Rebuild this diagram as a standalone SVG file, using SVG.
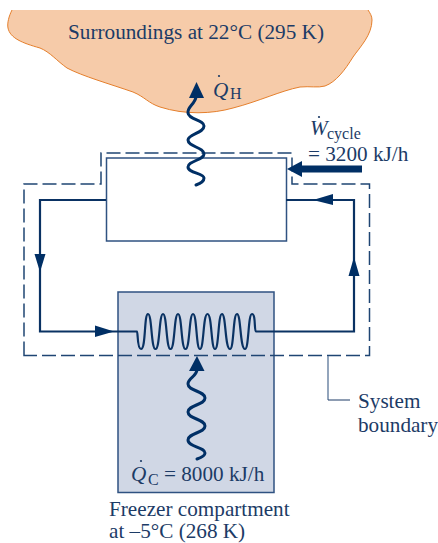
<svg xmlns="http://www.w3.org/2000/svg" width="438" height="543" viewBox="0 0 438 543">
<style>
text{font-family:"Liberation Serif","Times New Roman",serif;font-size:21.200px;fill:#1c3b66}
.i{font-style:italic}
.s{font-size:16px}
.l{fill:none;stroke:#0a3263;stroke-width:2.2;stroke-linejoin:miter}
.b{fill:none;stroke:#1f4573;stroke-width:1.5}
.w{fill:none;stroke:#002f65;stroke-width:3;stroke-linecap:round}
.h{fill:#002f65}
.d{fill:#1c3b66}
</style>
<g id="surroundings">
<path d="M12 10C9 16 7 23 8 28C10 38 22 43 40 48C50 52 57 61 67 68C82 76 110 84 133 92C145 97 148 103 160 107C185 115 212 114 233 108C260 101 280 91 300 87C310 86 318 88 325 86C336 82 345 70 353 57C360 47 372 35 372 20C372 16 370 13 368 10Z" fill="#f6cba9"/>
<path d="M12 10C9 16 7 23 8 28C10 38 22 43 40 48C50 52 57 61 67 68C82 76 110 84 133 92C145 97 148 103 160 107C185 115 212 114 233 108C260 101 280 91 300 87C310 86 318 88 325 86C336 82 345 70 353 57C360 47 372 35 372 20C372 16 370 13 368 10" fill="none" stroke="#e57f2c" stroke-width="1"/>
<text x="68" y="39" textLength="256" lengthAdjust="spacingAndGlyphs" style="font-size:20.500px">Surroundings at 22°C (295 K)</text>
</g>
<g id="compressor"><rect x="106.500" y="158" width="180" height="83" fill="#fff" stroke="#2f5281" stroke-width="1.500"/></g>
<g id="freezer"><rect x="118" y="292" width="156" height="200.500" fill="#d0d7e5" stroke="#2f5281" stroke-width="1.500"/></g>
<g id="connectors">
<path class="b" d="M24 355.500V184H101V153H292V184H369.500V355.500Z" stroke-dasharray="14 5"/>
<path class="l" d="M106 200H40V331.500H137C138 331.500 137 349 141 349C146 349 144 314 148 314C152 314 151 349 155.500 349C160 349 159 314 163 314C167 314 166 349 170.500 349C175 349 174 314 178 314C182 314 181 349 185.500 349C190 349 189 314 193 314C197 314 196 349 200 349C204 349 203 314 207.500 314C212 314 211 349 215 349C219 349 218 314 222 314C226 314 225 349 230 349C234 349 233 314 237 314C241 314 240 349 245 349C249 349 248 314 252 314C256 314 254 331.500 256 331.500H354V200H286"/>
<path class="h" d="M34.500 254H45.500L40 272ZM348.500 276H359.500L354 257ZM95 325.500L114 331.500L95 337ZM333 194V205L313 200Z"/>
<path class="w" d="M196 97C195 104 187 107 188 113C189 120 204 120 204 126C204 133 188 134 188 140C188 147 204 147 204 154C204 160 188 161 188 167C188 173 204 173 204 178C204 182 199 184 196 185"/>
<path class="h" d="M189 98L196.500 82L204 98Z"/>
<path class="w" d="M197 370C196 377 188 378 188 384C188 391 205 391 205 398C205 405 188 405 188 412C188 419 205 419 205 426C205 433 188 433 188 440C188 447 205 447 205 453C205 456 200 458 197 459"/>
<path class="h" d="M189 371L197 356L204.500 371Z"/>
<path class="h" d="M287 169L302 161V165.500H362V172.500H302V177Z"/>
<path d="M328 356V400" stroke="#6f87a6" stroke-width="1.500" fill="none"/>
<path d="M328 400H350" stroke="#1c3b66" stroke-width="1" fill="none"/>
</g>
<g id="labels">
<text x="213" y="97" class="i">Q</text><circle class="d" cx="219" cy="76" r="1.100"/><text x="230" y="99" class="s">H</text>
<text x="310" y="135" class="i">W</text><circle class="d" cx="319" cy="117" r="1.100"/><text x="327" y="139" class="s">cycle</text>
<text x="308" y="161">= 3200 kJ/h</text>
<text x="131" y="481" class="i">Q</text><circle class="d" cx="141" cy="461" r="1.100"/><text x="148" y="485" class="s">C</text><text x="164" y="481">= 8000 kJ/h</text>
<text x="358" y="408">System</text><text x="358" y="432">boundary</text>
<text x="109" y="516">Freezer compartment</text><text x="109" y="538">at –5°C (268 K)</text>
</g>
</svg>
